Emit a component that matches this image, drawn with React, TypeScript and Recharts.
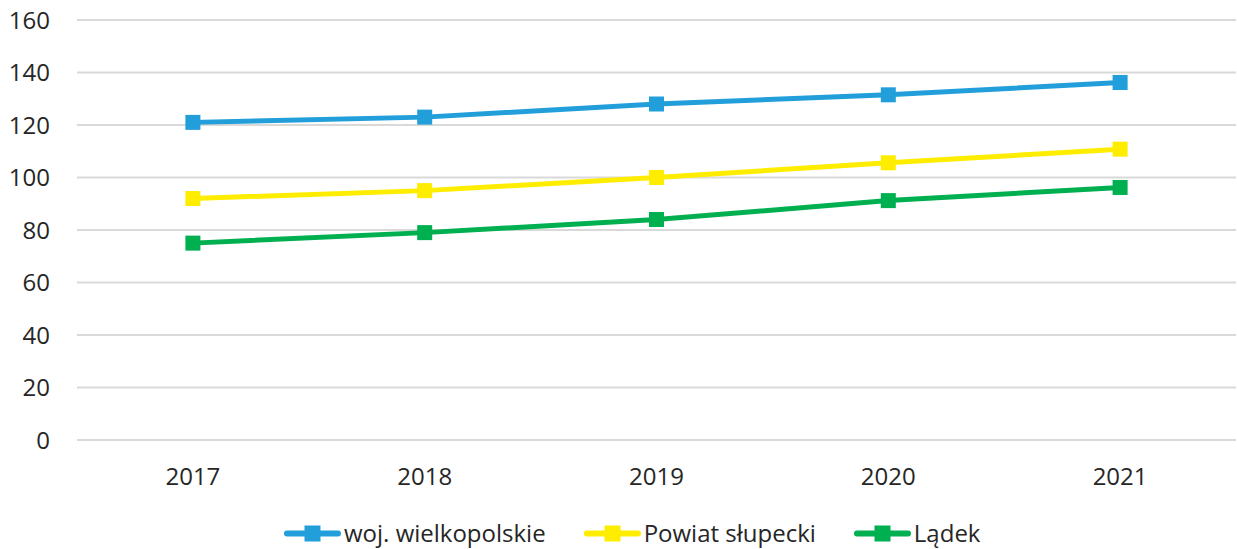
import React from 'react'
import { LineChart, Line, XAxis, YAxis, CartesianGrid } from 'recharts'

const years = ['2017', '2018', '2019', '2020', '2021']
const wielkopolskie = [121, 123, 128, 131.5, 136.2]
const slupecki = [92, 95, 100, 105.6, 110.8]
const ladek = [75, 79, 84, 91.2, 96.2]
const yTicks = [0, 20, 40, 60, 80, 100, 120, 140, 160]

const seriesInfo = [
  { key: 'woj', name: 'woj. wielkopolskie', color: '#229fdb' },
  { key: 'pow', name: 'Powiat słupecki', color: '#ffed00' },
  { key: 'lad', name: 'Lądek', color: '#00b050' },
]

const data = years.map((year, i) => ({
  year,
  woj: wielkopolskie[i],
  pow: slupecki[i],
  lad: ladek[i],
}))

const FONT = '"Open Sans", sans-serif'

const SquareDot = ({ cx, cy, stroke }: any) => {
  if (cx == null || cy == null) return null
  return <rect x={cx - 7.5} y={cy - 7.5} width={15} height={15} fill={stroke} />
}

// legend drawn by hand so the icon (line + square) looks like the original
function LegendRow() {
  return (
    <div
      style={{
        position: 'absolute',
        top: 521,
        left: 284,
        display: 'flex',
        fontFamily: FONT,
        fontSize: 24,
        lineHeight: '24px',
        color: '#262626',
        whiteSpace: 'nowrap',
      }}
    >
      {seriesInfo.map((s, i) => (
        <div
          key={s.key}
          style={{ display: 'flex', alignItems: 'center', marginLeft: i === 0 ? 0 : 38 }}
        >
          <svg width={57} height={17} style={{ marginRight: 3 }}>
            <line x1={3} y1={8.5} x2={54} y2={8.5} stroke={s.color} strokeWidth={6} strokeLinecap="round" />
            <rect x={20.5} y={0.5} width={16} height={16} fill={s.color} />
          </svg>
          <span>{s.name}</span>
        </div>
      ))}
    </div>
  )
}

export default function App() {
  return (
    <div style={{ position: 'absolute', top: 0, left: 0, width: 1237, height: 549, background: '#fff', overflow: 'hidden' }}>
      <LineChart
        width={1237}
        height={549}
        data={data}
        margin={{ top: 20, right: 1, left: 0, bottom: 49 }}
      >
        <CartesianGrid vertical={false} stroke="#d9d9d9" strokeWidth={2} />
        <XAxis
          dataKey="year"
          axisLine={false}
          tickLine={false}
          tickSize={0}
          tickMargin={28}
          height={60}
          tick={{ fill: '#262626', fontSize: 24, fontFamily: FONT }}
          interval={0}
          scale="band"
        />
        <YAxis
          domain={[0, 160]}
          ticks={yTicks}
          axisLine={false}
          tickLine={false}
          tickSize={0}
          tickMargin={27}
          width={77}
          interval={0}
          tick={{ fill: '#262626', fontSize: 24, fontFamily: FONT }}
        />
        {seriesInfo.map((s) => (
          <Line
            key={s.key}
            dataKey={s.key}
            name={s.name}
            stroke={s.color}
            strokeWidth={5}
            dot={<SquareDot />}
            activeDot={false}
            isAnimationActive={false}
            type="linear"
          />
        ))}
      </LineChart>
      <LegendRow />
    </div>
  )
}
